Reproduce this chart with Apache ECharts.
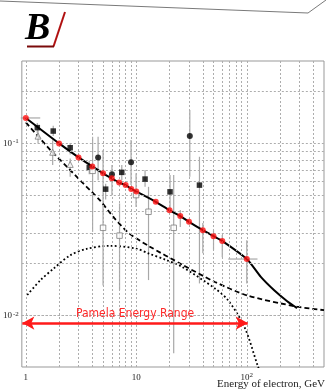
<!DOCTYPE html>
<html>
<head>
<meta charset="utf-8">
<script src="https://cdn.jsdelivr.net/npm/echarts@6/dist/echarts.min.js"></script>
<style>
  html, body { margin: 0; padding: 0; background: #fff; }
  #chart { width: 327px; height: 389px; }
</style>
</head>
<body>
<div id="chart"></div>
<script>
// Electron flux vs energy (log-log), with the Pamela energy range marked.

// Reference flux points (red) and the model curve drawn through them
const redEnergy = [1, 2, 3, 4, 5, 6, 7, 8, 9, 10, 15, 20, 25, 30, 40, 50, 60, 100];
const redFlux = [0.140, 0.0996, 0.0826, 0.0732, 0.0667, 0.0624, 0.059, 0.057, 0.0542, 0.0523,
                 0.0456, 0.0407, 0.0377, 0.0349, 0.0312, 0.0288, 0.027, 0.0212];
const redErrLow = [0, 0, 0, 0, 0, 0, 0, 0, 0, 0, 0, 0, 0.0326, 0, 0.0229, 0.0239, 0.0217, 0.0153];
const redErrHigh = [0, 0, 0, 0, 0, 0, 0, 0, 0, 0, 0, 0, 0.0408, 0, 0.0343, 0.0312, 0.0292, 0.0273];
const redBinLow = [0.9, 0, 0, 0, 0, 0, 0, 0, 0, 0, 0, 0, 0, 0, 0, 0, 0, 68];
const redBinHigh = [1.35, 0, 0, 0, 0, 0, 0, 0, 0, 0, 0, 0, 0, 0, 0, 0, 0, 125];

const modelTailEnergy = [134, 177, 232, 285];
const modelTailFlux = [0.0167, 0.01396, 0.01206, 0.0110];

// Dashed component
const dashedEnergy = [1, 1.67, 2.36, 3.31, 4.67, 6.36, 8.66, 13, 25.9, 51.5, 102, 285, 500];
const dashedFlux = [0.132, 0.0911, 0.0728, 0.0583, 0.0466, 0.0365, 0.0298, 0.0252, 0.0197, 0.0156, 0.013, 0.0112, 0.0107];

// Dotted component
const dottedEnergy = [1.03, 1.36, 1.79, 2.52, 3.55, 5.74, 9.95, 13, 18.4, 25.9, 51.5, 67.8, 95.2, 125, 140];
const dottedFlux = [0.0131, 0.016, 0.0187, 0.0223, 0.0243, 0.0253, 0.0244, 0.0228, 0.021, 0.0191, 0.0143, 0.0122, 0.00855, 0.00513, 0.0042];

// Measurements: filled squares
const sqEnergy = [1.27, 1.77, 2.52, 3.75, 5.28, 7.39, 12.0, 20.2, 37.3];
const sqFlux = [0.123, 0.1175, 0.094, 0.0723, 0.054, 0.0676, 0.0618, 0.0521, 0.057];
const sqLow = [0.114, 0.110, 0.086, 0.066, 0.047, 0.0609, 0.0557, 0.0408, 0.0153];
const sqHigh = [0.131, 0.126, 0.100, 0.079, 0.058, 0.0745, 0.0697, 0.0652, 0.0833];

// Measurements: filled circles
const circEnergy = [4.51, 6.02, 8.96, 30.5];
const circFlux = [0.0826, 0.066, 0.0773, 0.1098];
const circLow = [0.0609, 0.0498, 0.057, 0.0637];
const circHigh = [0.1088, 0.0745, 0.1041, 0.1556];

// Measurements: open squares
const openEnergy = [4.02, 5.0, 7.05, 9.95, 12.9, 21.8];
const openFlux = [0.069, 0.0322, 0.029, 0.0499, 0.0399, 0.0322];
const openLow = [0.0305, 0.0149, 0.014, 0.0425, 0.016, 0.006];
const openHigh = [0.1088, 0.0911, 0.0446, 0.0669, 0.0557, 0.0652];

// Measurements: open triangles
const triEnergy = [1.29, 1.75, 2.52];
const triFlux = [0.1098, 0.0885, 0.0752];
const triLow = [0.0996, 0.0745, 0.0637];
const triHigh = [0.1244, 0.104, 0.0815];

// Pamela energy range (GeV) and the flux level the arrow is drawn at
const pamelaRange = [0.93, 102];
const pamelaLevel = 0.009;

// Axis ranges, grid lines and labelled decades
const xRange = [0.92, 500];
const yRange = [0.005, 0.3];
const xGridValues = [1, 2, 3, 4, 5, 6, 7, 8, 9, 10, 20, 30, 40, 50, 60, 70, 80, 90, 100, 200, 300, 400];
const yGridValues = [0.006, 0.007, 0.008, 0.009, 0.01, 0.02, 0.03, 0.04, 0.05, 0.06, 0.07, 0.08, 0.09, 0.1, 0.2];
const xLabelExps = [0, 1, 2];
const yLabelExps = [-1, -2];

const zip = (a, b) => a.map((v, i) => [v, b[i]]);
const errRows = (e, f, lo, hi, bl, bh) =>
  e.map((v, i) => [v, f[i], lo[i] || 0, hi[i] || 0, bl ? bl[i] : 0, bh ? bh[i] : 0]);

function renderErr(params, api) {
  const x = api.value(0), y = api.value(1);
  const lo = api.value(2), hi = api.value(3), bl = api.value(4), bh = api.value(5);
  const st = { stroke: '#a8a8a8', lineWidth: 1.2 };
  const kids = [];
  if (lo > 0 && hi > 0) {
    const a = api.coord([x, lo]), b = api.coord([x, hi]);
    kids.push({ type: 'line', shape: { x1: a[0], y1: a[1], x2: b[0], y2: b[1] }, style: st });
  }
  if (bl > 0 && bh > 0) {
    const a = api.coord([bl, y]), b = api.coord([bh, y]);
    kids.push({ type: 'line', shape: { x1: a[0], y1: a[1], x2: b[0], y2: b[1] }, style: st });
  }
  return { type: 'group', children: kids };
}

const expOf = v => Math.round(Math.log10(v) * 1000) / 1000;

const serif = '"Liberation Serif", "Times New Roman", serif';

const chart = echarts.init(document.getElementById('chart'), null, { renderer: 'canvas' });

const gridLineStyle = { color: '#adadad', width: 1, type: [2, 2] };

chart.setOption({
  animation: false,
  backgroundColor: '#fff',
  grid: {
    left: 21, top: 61, width: 306.4, height: 306,
    show: true, borderColor: '#999', borderWidth: 1, backgroundColor: 'transparent'
  },
  xAxis: {
    type: 'log', logBase: 10, min: xRange[0], max: xRange[1],
    axisLine: { show: false }, axisTick: { show: false }, splitLine: { show: false },
    axisLabel: {
      margin: 5, color: '#222', fontFamily: serif,
      formatter: v => {
        const e = expOf(v);
        if (!xLabelExps.includes(e)) return '';
        if (e === 0) return '{b|1}';
        if (e === 1) return '{b|10}';
        return '{b|10}{e|' + e + '}';
      },
      rich: {
        b: { fontSize: 9, fontFamily: serif, color: '#222', lineHeight: 10, verticalAlign: 'bottom' },
        e: { fontSize: 7, fontFamily: serif, color: '#222', lineHeight: 8, verticalAlign: 'top', padding: [0, 0, 10, 0] }
      }
    }
  },
  yAxis: {
    type: 'log', logBase: 10, min: yRange[0], max: yRange[1],
    axisLine: { show: false }, axisTick: { show: false }, splitLine: { show: false },
    axisLabel: {
      margin: 3, color: '#222', fontFamily: serif,
      formatter: v => {
        const e = expOf(v);
        if (!yLabelExps.includes(e)) return '';
        return '{b|10}{e|' + e + '}';
      },
      rich: {
        b: { fontSize: 9, fontFamily: serif, color: '#222', lineHeight: 10, verticalAlign: 'bottom' },
        e: { fontSize: 7, fontFamily: serif, color: '#222', lineHeight: 8, verticalAlign: 'top', padding: [0, 0, 5, 1] }
      }
    }
  },
  graphic: [
    { type: 'polyline', silent: true, shape: { points: [[0, 1], [308, 13], [326, 0]] },
      style: { stroke: '#7a7a7a', lineWidth: 1, fill: null } },
    { type: 'text', silent: true, style: { text: 'B', x: 25, y: 29, verticalAlign: 'middle',
      font: 'italic bold 38px "Liberation Serif", serif', fill: '#000' } },
    { type: 'line', silent: true, shape: { x1: 65, y1: 12, x2: 53.5, y2: 46.5 },
      style: { stroke: '#b01010', lineWidth: 2 } },
    { type: 'line', silent: true, shape: { x1: 27, y1: 46.5, x2: 54, y2: 46.5 },
      style: { stroke: '#7a0a0a', lineWidth: 2 } },
    { type: 'text', silent: true, style: { text: 'Energy of electron, GeV', x: 325, y: 384,
      align: 'right', verticalAlign: 'middle', font: '11px ' + serif, fill: '#222' } }
  ],
  series: [
    {
      // dotted grid lines
      type: 'line', data: [], silent: true, z: 1,
      markLine: {
        silent: true, symbol: 'none', animation: false,
        label: { show: false }, lineStyle: gridLineStyle,
        emphasis: { disabled: true },
        data: xGridValues.map(v => ({ xAxis: v })).concat(yGridValues.map(v => ({ yAxis: v })))
      }
    },
    { type: 'custom', renderItem: renderErr, z: 2, silent: true,
      encode: { x: 0, y: 1 }, data: errRows(sqEnergy, sqFlux, sqLow, sqHigh) },
    { type: 'custom', renderItem: renderErr, z: 2, silent: true,
      encode: { x: 0, y: 1 }, data: errRows(circEnergy, circFlux, circLow, circHigh) },
    { type: 'custom', renderItem: renderErr, z: 2, silent: true,
      encode: { x: 0, y: 1 }, data: errRows(openEnergy, openFlux, openLow, openHigh) },
    { type: 'custom', renderItem: renderErr, z: 2, silent: true,
      encode: { x: 0, y: 1 }, data: errRows(triEnergy, triFlux, triLow, triHigh) },
    { type: 'custom', renderItem: renderErr, z: 2, silent: true,
      encode: { x: 0, y: 1 }, data: errRows(redEnergy, redFlux, redErrLow, redErrHigh, redBinLow, redBinHigh) },
    {
      type: 'line', z: 3, symbol: 'none', smooth: 0.25, clip: true,
      data: zip(dashedEnergy, dashedFlux),
      lineStyle: { color: '#000', width: 1.8, type: [5, 3] }
    },
    {
      type: 'line', z: 3, symbol: 'none', smooth: 0.3, clip: true,
      data: zip(dottedEnergy, dottedFlux),
      lineStyle: { color: '#000', width: 1.8, type: [1.8, 2.4] }
    },
    {
      type: 'line', z: 4, symbol: 'none', smooth: 0.25, clip: true,
      data: zip(redEnergy.concat(modelTailEnergy), redFlux.concat(modelTailFlux)),
      lineStyle: { color: '#000', width: 2 }
    },
    {
      type: 'scatter', z: 5, symbol: 'rect', symbolSize: 5.5,
      data: zip(sqEnergy, sqFlux), itemStyle: { color: '#000' }
    },
    {
      type: 'scatter', z: 5, symbol: 'circle', symbolSize: 6,
      data: zip(circEnergy, circFlux), itemStyle: { color: '#000' }
    },
    {
      type: 'scatter', z: 5, symbol: 'rect', symbolSize: 5.5,
      data: zip(openEnergy, openFlux),
      itemStyle: { color: '#fff', borderColor: '#7d7d7d', borderWidth: 1 }
    },
    {
      type: 'scatter', z: 5, symbol: 'triangle', symbolSize: 6,
      data: zip(triEnergy, triFlux),
      itemStyle: { color: '#fff', borderColor: '#7d7d7d', borderWidth: 1 }
    },
    {
      type: 'scatter', z: 6, symbol: 'circle', symbolSize: 6,
      data: zip(redEnergy, redFlux), itemStyle: { color: '#ff1010' },
      markLine: {
        silent: true, animation: false, symbol: ['arrow', 'arrow'], symbolSize: [10, 12],
        lineStyle: { color: '#ff1a1a', width: 2.5, type: 'solid' },
        emphasis: { disabled: true },
        label: {
          show: true, position: 'middle', distance: 3,
          formatter: 'Pamela Energy Range', color: '#ff2a2a',
          fontFamily: '"Liberation Sans Narrow", "DejaVu Sans Condensed", sans-serif', fontSize: 12
        },
        data: [[{ coord: [pamelaRange[0], pamelaLevel] }, { coord: [pamelaRange[1], pamelaLevel] }]]
      }
    }
  ]
});
</script>
</body>
</html>
